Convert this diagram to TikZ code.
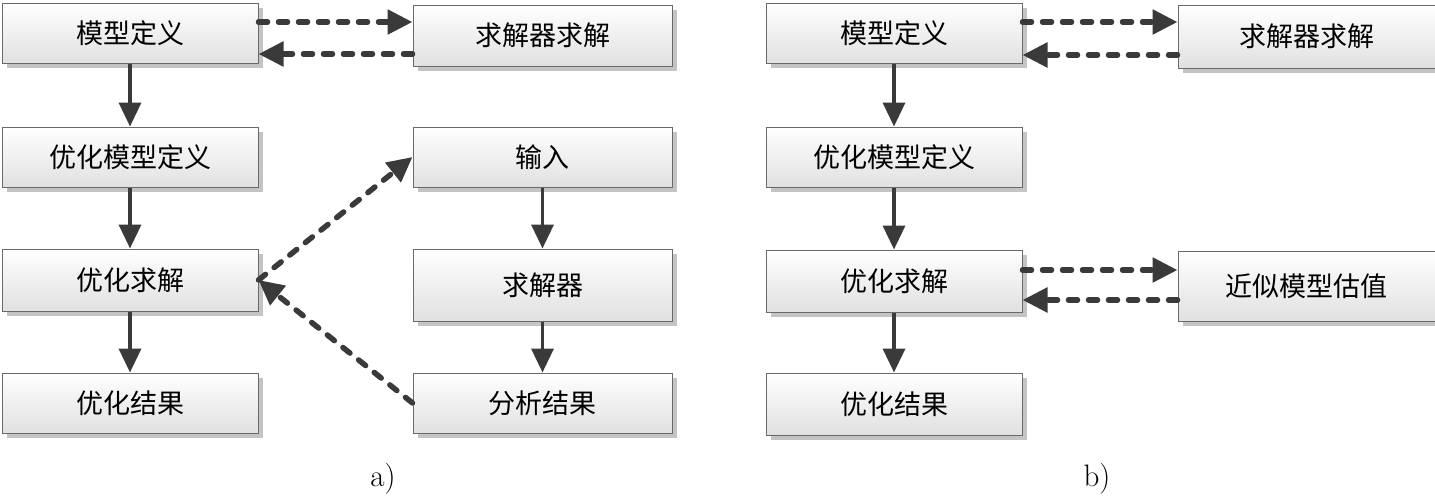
\documentclass[tikz,border=0pt]{standalone}
\usepackage{fontspec}
\newfontfamily\cjk{Noto Sans CJK SC}
\usetikzlibrary{arrows.meta,shadows}
\definecolor{arr}{HTML}{3A3A3A}
\definecolor{bord}{HTML}{6A6A6A}
\definecolor{shad}{HTML}{C4C4C4}
\tikzset{
  box/.style={draw=bord, line width=1pt, top color=white, bottom color=black!12,
    inner sep=0pt, font=\cjk\fontsize{27}{30}\selectfont,
    general shadow={shadow xshift=5pt, shadow yshift=-5pt, fill=shad}},
  flow/.style={draw=arr, line width=3.6pt, -{Triangle[length=24pt,width=22pt]}},
  dflow/.style={draw=arr, line width=5.5pt, dash pattern=on 9pt off 11pt, line cap=round,
    -{Triangle[length=25pt,width=24pt]}},
  lab/.style={font=\fontsize{31}{34}\selectfont}
}
\begin{document}
\begin{tikzpicture}[x=1pt,y=-1pt]
\useasboundingbox (0,0) rectangle (1435,496);
% panel a
\node[box, minimum width=256pt, minimum height=60pt] (a1) at (130,33) {模型定义};
\node[box, minimum width=256pt, minimum height=60pt] (a2) at (130,157) {优化模型定义};
\node[box, minimum width=256pt, minimum height=62pt] (a3) at (130,280) {优化求解};
\node[box, minimum width=256pt, minimum height=60pt] (a4) at (130,403) {优化结果};
\node[box, minimum width=259pt, minimum height=61pt] (ar1) at (542.5,35.5) {求解器求解};
\node[box, minimum width=259pt, minimum height=60pt] (ar2) at (542.5,157) {输入};
\node[box, minimum width=259pt, minimum height=72pt] (ar3) at (542.5,285) {求解器};
\node[box, minimum width=259pt, minimum height=60pt] (ar4) at (542.5,403) {分析结果};
% panel b
\node[box, minimum width=256pt, minimum height=60pt] (b1) at (894,33) {模型定义};
\node[box, minimum width=256pt, minimum height=60pt] (b2) at (894,157) {优化模型定义};
\node[box, minimum width=256pt, minimum height=62pt] (b3) at (894,281) {优化求解};
\node[box, minimum width=256pt, minimum height=62pt] (b4) at (894,404) {优化结果};
\node[box, minimum width=257pt, minimum height=63pt] (br1) at (1306.5,36.5) {求解器求解};
\node[box, minimum width=257pt, minimum height=70pt] (br2) at (1306.5,286) {近似模型估值};
% labels
\node[lab] (la) at (383,479) {a)};
\node[lab] (lb) at (1097,479) {b)};
% solid arrows a
\draw[flow] (a1.south) -- (a2.north);
\draw[flow] (a2.south) -- (a3.north);
\draw[flow] (a3.south) -- (a4.north);
\draw[flow] (ar2.south) -- (ar3.north);
\draw[flow] (ar3.south) -- (ar4.north);
% solid arrows b
\draw[flow] (b1.south) -- (b2.north);
\draw[flow] (b2.south) -- (b3.north);
\draw[flow] (b3.south) -- (b4.north);
% dashed a
\coordinate (a1u) at ([yshift=11pt]a1.east);
\coordinate (a1d) at ([yshift=-21pt]a1.east);
\draw[dflow] (a1u) -- (a1u -| ar1.west);
\draw[dflow] (a1d -| ar1.west) -- (a1d);
\draw[dflow] (a3.east) -- (ar2.west);
\draw[dflow] (ar4.west) -- (a3.east);
% dashed b
\coordinate (b1u) at ([yshift=11pt]b1.east);
\coordinate (b1d) at ([yshift=-22pt]b1.east);
\draw[dflow] (b1u) -- (b1u -| br1.west);
\draw[dflow] (b1d -| br1.west) -- (b1d);
\coordinate (b3u) at ([yshift=11pt]b3.east);
\coordinate (b3d) at ([yshift=-19pt]b3.east);
\draw[dflow] (b3u) -- (b3u -| br2.west);
\draw[dflow] (b3d -| br2.west) -- (b3d);
\end{tikzpicture}
\end{document}
